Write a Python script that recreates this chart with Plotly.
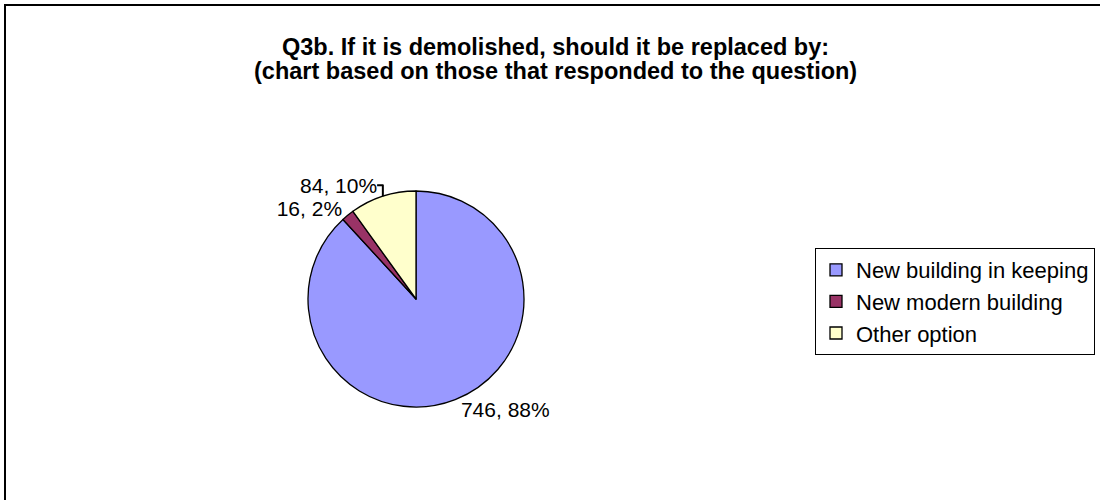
import plotly.graph_objects as go

categories = ["New building in keeping", "New modern building", "Other option"]
values = [746, 16, 84]
colors = ["#9999FF", "#993366", "#FFFFCC"]
title_lines = ["Q3b. If it is demolished, should it be replaced by:",
               "(chart based on those that responded to the question)"]

W, H = 1100, 500
cx, cy, r = 416, 299, 108
FONT = "Liberation Sans, Arial"

fig = go.Figure(go.Pie(
    labels=categories,
    values=values,
    sort=False,
    direction="clockwise",
    rotation=0,
    marker=dict(colors=colors, line=dict(color="black", width=1.3)),
    texttemplate="%{value}, %{percent:.0%}",
    textposition="outside",
    textfont=dict(family=FONT, size=21, color="black"),
    domain=dict(x=[(cx - r) / W, (cx + r) / W], y=[(H - cy - r) / H, (H - cy + r) / H]),
    hoverinfo="label+value+percent",
))

annotations = []
for i, line in enumerate(title_lines):
    annotations.append(dict(
        text="<b>" + line + "</b>", xref="paper", yref="paper",
        x=555 / W, y=1 - (47 + 24 * i) / H, xanchor="center", yanchor="middle",
        showarrow=False, font=dict(size=23.5, family=FONT, color="black"),
    ))

fig.update_layout(
    width=W, height=H,
    margin=dict(l=0, r=0, t=0, b=0),
    paper_bgcolor="white",
    font=dict(family=FONT, color="black"),
    annotations=annotations,
    legend=dict(
        x=815 / W, xanchor="left", y=1 - 248 / H, yanchor="top",
        bordercolor="black", borderwidth=1,
        font=dict(size=22, family=FONT),
        itemwidth=30, tracegroupgap=0,
    ),
    shapes=[dict(type="rect", xref="paper", yref="paper",
                 x0=5 / W, y0=-0.05, x1=1.05, y1=1 - 5 / H,
                 line=dict(color="black", width=2))],
)

fig.write_html("out.html", config={"displayModeBar": False},
               post_script="document.body.style.margin='0';")
